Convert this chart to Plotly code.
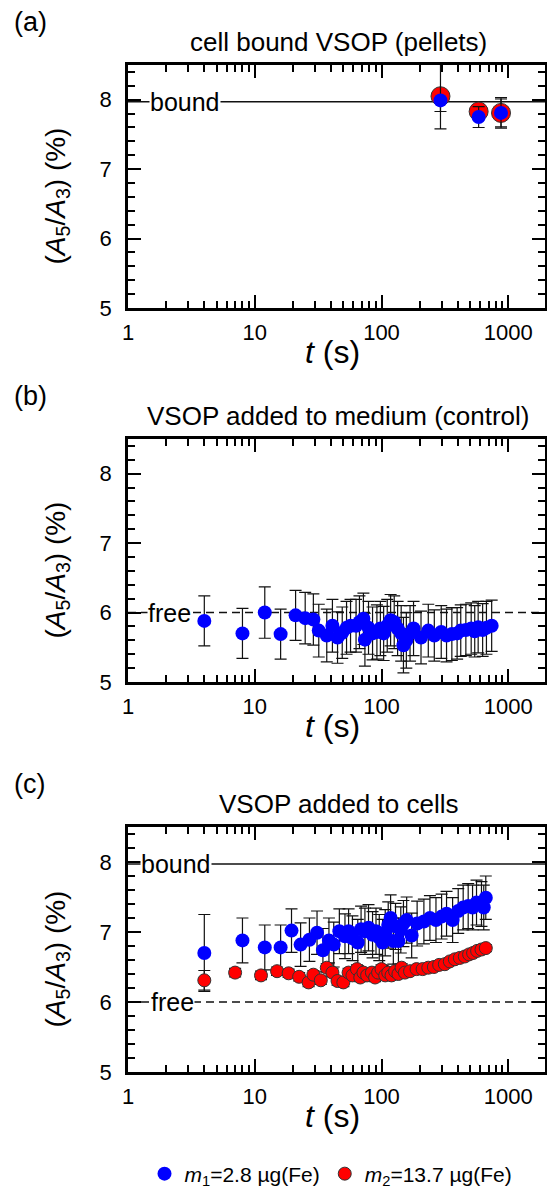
import plotly.graph_objects as go

FONT = "Liberation Sans, Arial, sans-serif"
W, H = 547, 1188

# ---------------- data ----------------
BOUND_LEVEL = 7.97
FREE_LEVEL = 6.0

x_tick_vals = [1, 10, 100, 1000]
x_tick_text = ["1", "10", "100", "1000"]
y_tick_vals = [5, 6, 7, 8]
y_tick_text = ["5", "6", "7", "8"]

panel_titles = ["cell bound VSOP (pellets)", "VSOP added to medium (control)", "VSOP added to cells"]
panel_labels = ["(a)", "(b)", "(c)"]
legend_m1 = "<i>m</i><sub>1</sub>=2.8 µg(Fe)"
legend_m2 = "<i>m</i><sub>2</sub>=13.7 µg(Fe)"

# (a) pellets
t_a = [292, 584, 877]
a_m1 = [7.99, 7.75, 7.81]
a_m1_err_plus = [0.55, 0.15, 0.20]
a_m1_err_minus = [0.41, 0.15, 0.20]
a_m2 = [8.05, 7.83, 7.81]
a_m2_err_plus = [0.08, 0.10, 0.22]
a_m2_err_minus = [0.22, 0.10, 0.22]

# (b) control
t_b = [4, 8, 12, 16, 21, 25, 29, 32, 37, 41,
       45, 49, 53, 57, 63, 67, 72, 74, 79, 85,
       92, 98, 104, 111, 118, 126, 134, 143, 149, 157,
       168, 179, 205, 234, 261, 296, 326, 359, 395, 422,
       463, 510, 544, 579, 628, 673, 740]
b_m1 = [5.88, 5.70, 6.00, 5.69, 5.96, 5.92, 5.90, 5.74, 5.67, 5.81,
        5.64, 5.71, 5.78, 5.81, 5.81, 5.86, 5.91, 5.61, 5.78, 5.70,
        5.72, 5.77, 5.70, 5.81, 5.89, 5.86, 5.77, 5.70, 5.53, 5.60,
        5.70, 5.77, 5.64, 5.74, 5.67, 5.72, 5.67, 5.69, 5.70, 5.74,
        5.75, 5.77, 5.73, 5.79, 5.75, 5.78, 5.81]
b_err = [0.36, 0.36, 0.37, 0.36, 0.36, 0.37, 0.37, 0.38, 0.38, 0.38,
         0.37, 0.37, 0.38, 0.38, 0.38, 0.38, 0.37, 0.38, 0.38, 0.38,
         0.39, 0.39, 0.39, 0.38, 0.37, 0.38, 0.39, 0.40, 0.40, 0.40,
         0.40, 0.39, 0.38, 0.38, 0.37, 0.38, 0.38, 0.38, 0.37, 0.37,
         0.37, 0.37, 0.37, 0.37, 0.38, 0.38, 0.37]

# (c) cells, m1
t_c1 = [4, 8, 12, 16, 19.5, 23, 27, 31, 34.5, 38.5,
        42, 46.5, 51.5, 55, 59, 65, 69, 74, 79, 85,
        90.5, 96, 102, 107, 113, 118, 124, 129, 136, 142,
        149, 158, 173, 191, 216, 241, 269, 298, 326, 364,
        403, 441, 483, 523, 562, 615, 641, 665]
c_m1 = [6.70, 6.88, 6.78, 6.78, 7.02, 6.82, 6.89, 6.99, 6.74, 6.88,
        6.82, 7.01, 6.94, 7.01, 6.91, 6.85, 7.04, 7.01, 7.06, 6.96,
        7.01, 6.92, 6.85, 6.99, 7.10, 7.20, 6.87, 7.08, 6.87, 7.03,
        7.12, 7.17, 6.95, 7.12, 7.15, 7.20, 7.17, 7.22, 7.26, 7.17,
        7.30, 7.35, 7.37, 7.35, 7.42, 7.40, 7.35, 7.49]
c_m1_err = [0.55, 0.32, 0.32, 0.32, 0.31, 0.31, 0.31, 0.31, 0.31, 0.32,
            0.32, 0.32, 0.32, 0.32, 0.32, 0.33, 0.33, 0.33, 0.33, 0.33,
            0.33, 0.33, 0.33, 0.33, 0.33, 0.33, 0.33, 0.33, 0.33, 0.33,
            0.33, 0.33, 0.32, 0.32, 0.32, 0.32, 0.32, 0.32, 0.32, 0.32,
            0.32, 0.32, 0.32, 0.32, 0.32, 0.32, 0.32, 0.31]

# (c) cells, m2
t_c2 = [4, 7, 11.2, 15, 18.5, 22.4, 26.6, 29, 33.2, 37,
        41, 45, 50, 55, 59, 64, 68, 72, 77, 84,
        89, 94, 100, 107, 113, 120, 128, 136, 144, 153,
        168, 189, 211, 234, 259, 285, 316, 346, 379, 415,
        454, 491, 528, 568, 615, 665]
c_m2 = [6.31, 6.42, 6.38, 6.44, 6.41, 6.36, 6.28, 6.39, 6.31, 6.49,
        6.42, 6.30, 6.28, 6.42, 6.38, 6.47, 6.35, 6.42, 6.38, 6.42,
        6.35, 6.42, 6.47, 6.38, 6.42, 6.38, 6.44, 6.40, 6.49, 6.42,
        6.44, 6.47, 6.47, 6.49, 6.50, 6.53, 6.54, 6.58, 6.61, 6.63,
        6.65, 6.68, 6.70, 6.73, 6.75, 6.77]
c_m2_err = [0.14, 0.06, 0.06, 0.06, 0.06, 0.06, 0.06, 0.06, 0.06, 0.06,
            0.06, 0.06, 0.06, 0.06, 0.06, 0.06, 0.06, 0.06, 0.06, 0.06,
            0.06, 0.06, 0.06, 0.06, 0.06, 0.06, 0.06, 0.06, 0.06, 0.06,
            0.05, 0.05, 0.05, 0.05, 0.05, 0.05, 0.05, 0.05, 0.05, 0.05,
            0.05, 0.05, 0.05, 0.05, 0.05, 0.05]

# ---------------- styling / layout ----------------
BLUE = "#0000FF"
RED = "#FF0000"
ERR_COLOR = "#111111"

def px_x(p):
    return p / W

def px_y(p):
    return 1 - p / H

# plot rectangles in pixels (top, bottom)
panels_px = [(65, 308), (439, 682), (827, 1072)]
left_px, right_px = 128, 545

fig = go.Figure()

def err(arr, arrminus=None):
    d = dict(type="data", array=arr, color=ERR_COLOR, thickness=1.2, width=6, visible=True)
    if arrminus is not None:
        d["symmetric"] = False
        d["arrayminus"] = arrminus
    return d

# (a)
fig.add_trace(go.Scatter(x=t_a, y=a_m2, mode="markers", xaxis="x", yaxis="y", showlegend=False,
                         marker=dict(color=RED, size=19, line=dict(color="#333333", width=1)),
                         error_y=err(a_m2_err_plus, a_m2_err_minus)))
fig.add_trace(go.Scatter(x=t_a, y=a_m1, mode="markers", xaxis="x", yaxis="y", showlegend=False,
                         marker=dict(color=BLUE, size=14, line=dict(color=BLUE, width=0)),
                         error_y=err(a_m1_err_plus, a_m1_err_minus)))
# (b)
fig.add_trace(go.Scatter(x=t_b, y=b_m1, mode="markers", xaxis="x2", yaxis="y2", showlegend=False,
                         marker=dict(color=BLUE, size=14, line=dict(color=BLUE, width=0)),
                         error_y=err(b_err)))
# (c)
fig.add_trace(go.Scatter(x=t_c1, y=c_m1, mode="markers", xaxis="x3", yaxis="y3", name=legend_m1,
                         marker=dict(color=BLUE, size=14, line=dict(color=BLUE, width=0)),
                         error_y=err(c_m1_err)))
fig.add_trace(go.Scatter(x=t_c2, y=c_m2, mode="markers", xaxis="x3", yaxis="y3", name=legend_m2,
                         marker=dict(color=RED, size=13, line=dict(color="#333333", width=1)),
                         error_y=err(c_m2_err)))

minor_x = [m * 10 ** e for e in range(0, 4) for m in range(2, 10)]

layout = dict(
    width=W, height=H, margin=dict(l=0, r=0, t=0, b=0, autoexpand=False),
    paper_bgcolor="white", plot_bgcolor="white",
    font=dict(family=FONT, size=21, color="black"),
    showlegend=True,
    legend=dict(orientation="h", x=px_x(331), y=px_y(1174), xanchor="center", yanchor="middle",
                font=dict(size=21), itemsizing="trace", bgcolor="rgba(0,0,0,0)",
                tracegroupgap=0, itemwidth=30),
)

shapes = []
annotations = []
for i, (top, bot) in enumerate(panels_px):
    sfx = "" if i == 0 else str(i + 1)
    xa = "xaxis" + sfx
    ya = "yaxis" + sfx
    layout[xa] = dict(
        type="log", range=[0, 3.29], domain=[px_x(left_px), px_x(right_px)],
        anchor="y" + sfx, tickmode="array", tickvals=x_tick_vals, ticktext=x_tick_text,
        ticks="inside", ticklen=13, tickwidth=2, tickcolor="black",
        showline=True, linewidth=2.5, linecolor="black", mirror="allticks",
        showgrid=False, zeroline=False, tickfont=dict(size=22), automargin=False,
        ticklabelstandoff=3,
        minor=dict(tickmode="array", tickvals=minor_x, ticks="inside", ticklen=7,
                   tickwidth=1.5, tickcolor="black", showgrid=False),
    )
    layout[ya] = dict(
        range=[5, 8.5], domain=[px_y(bot), px_y(top)], anchor="x" + sfx,
        tickmode="array", tickvals=y_tick_vals, ticktext=y_tick_text,
        ticks="inside", ticklen=13, tickwidth=2, tickcolor="black",
        showline=True, linewidth=2.5, linecolor="black", mirror="allticks",
        showgrid=False, zeroline=False, tickfont=dict(size=22), automargin=False,
        ticklabelstandoff=9,
        minor=dict(dtick=0.2, ticks="inside", ticklen=7, tickwidth=1.5,
                   tickcolor="black", showgrid=False),
    )
    # titles
    annotations.append(dict(text=panel_titles[i], x=px_x(338), y=px_y(top - 23), xref="paper", yref="paper",
                            showarrow=False, xanchor="center", yanchor="middle", font=dict(size=26)))
    annotations.append(dict(text=panel_labels[i], x=px_x(12), y=px_y(top - 43), xref="paper", yref="paper",
                            showarrow=False, xanchor="left", yanchor="middle", font=dict(size=27)))
    annotations.append(dict(text="<i>t</i> (s)", x=px_x(332), y=px_y(bot + 44), xref="paper", yref="paper",
                            showarrow=False, xanchor="center", yanchor="middle", font=dict(size=32)))
    annotations.append(dict(text="(<i>A</i><sub>5</sub>/<i>A</i><sub>3</sub>) (%)", x=px_x(57),
                            y=px_y((top + bot) / 2 + 10), xref="paper", yref="paper", textangle=-90,
                            showarrow=False, xanchor="center", yanchor="middle", font=dict(size=28)))

# reference lines
def hline(level, axis_sfx, dash):
    return dict(type="line", xref="x" + axis_sfx + " domain", yref="y" + axis_sfx,
                x0=0, x1=1, y0=level, y1=level, line=dict(color="#111111", width=1.5, dash=dash), layer="below")

shapes.append(hline(BOUND_LEVEL, "", "solid"))
shapes.append(hline(FREE_LEVEL, "2", "8px,5px"))
shapes.append(hline(BOUND_LEVEL, "3", "solid"))
shapes.append(hline(FREE_LEVEL, "3", "8px,5px"))

def line_label(text, xc, axis_sfx, level):
    return dict(text=text, x=px_x(xc), xref="paper", y=level, yref="y" + axis_sfx, showarrow=False,
                xanchor="center", yanchor="middle", font=dict(size=25), bgcolor="white", borderpad=0)

annotations.append(line_label("bound", 185, "", BOUND_LEVEL))
annotations.append(line_label("free", 169, "2", FREE_LEVEL))
annotations.append(line_label("bound", 176, "3", BOUND_LEVEL))
annotations.append(line_label("free", 172, "3", FREE_LEVEL))

layout["shapes"] = shapes
layout["annotations"] = annotations
fig.update_layout(**layout)

fig.write_html("out.html", config={"displayModeBar": False},
               post_script="document.body.style.margin='0';document.body.style.padding='0';")
